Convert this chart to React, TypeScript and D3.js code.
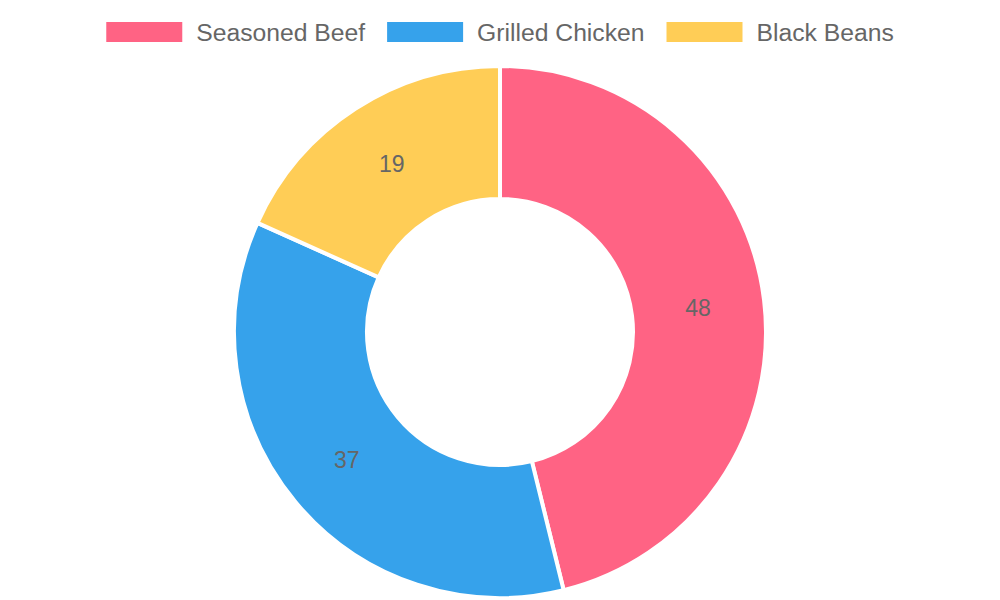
import React, { useEffect, useRef } from "react";
import * as d3 from "d3";

const categories = ["Seasoned Beef", "Grilled Chicken", "Black Beans"];
const values = [48, 37, 19];
const colors = ["#FF6384", "#36A2EB", "#FFCD56"];

export default function App() {
  const ref = useRef<SVGSVGElement>(null);
  useEffect(() => {
    const svg = d3.select(ref.current);
    svg.selectAll("*").remove();
    const W = 1000;
    const cx = 500, cy = 332;
    const outer = 266, inner = 133;
    const font = "'Liberation Sans', Arial, Helvetica, sans-serif";

    const pie = d3.pie<number>().sort(null).value((d) => d);
    const arcs = pie(values);
    const arc = d3.arc<d3.PieArcDatum<number>>().innerRadius(inner).outerRadius(outer);
    const g = svg.append("g").attr("transform", `translate(${cx},${cy})`);
    g.selectAll("path")
      .data(arcs)
      .enter()
      .append("path")
      .attr("d", arc as any)
      .attr("fill", (_, i) => colors[i])
      .attr("stroke", "#fff")
      .attr("stroke-width", 4)
      .attr("stroke-linejoin", "bevel");
    const labelArc = d3.arc<d3.PieArcDatum<number>>()
      .innerRadius((inner + outer) / 2)
      .outerRadius((inner + outer) / 2);
    g.selectAll("text.lbl")
      .data(arcs)
      .enter()
      .append("text")
      .attr("class", "lbl")
      .attr("transform", (d) => `translate(${labelArc.centroid(d)})`)
      .attr("text-anchor", "middle")
      .attr("dominant-baseline", "central")
      .attr("font-family", font)
      .attr("font-size", 23)
      .attr("fill", "#666")
      .text((d) => String(d.data));

    // legend
    const boxW = 76, boxH = 20, gapText = 14, gapItem = 22;
    const lg = svg.append("g");
    const items = categories.map((c, i) => {
      const it = lg.append("g");
      it.append("rect").attr("width", boxW).attr("height", boxH).attr("y", 22).attr("fill", colors[i]);
      const t = it.append("text")
        .attr("x", boxW + gapText)
        .attr("y", 32)
        .attr("dominant-baseline", "central")
        .attr("font-family", font)
        .attr("font-size", 24.7)
        .attr("fill", "#666")
        .text(c);
      const tw = (t.node() as SVGTextElement).getComputedTextLength();
      return { it, w: boxW + gapText + tw };
    });
    const total = items.reduce((s, d) => s + d.w, 0) + gapItem * (items.length - 1);
    let x = (W - total) / 2;
    items.forEach((d) => {
      d.it.attr("transform", `translate(${x},0)`);
      x += d.w + gapItem;
    });
  }, []);
  return (
    <svg ref={ref} width={1000} height={600} style={{ position: "absolute", left: 0, top: 0 }} />
  );
}
